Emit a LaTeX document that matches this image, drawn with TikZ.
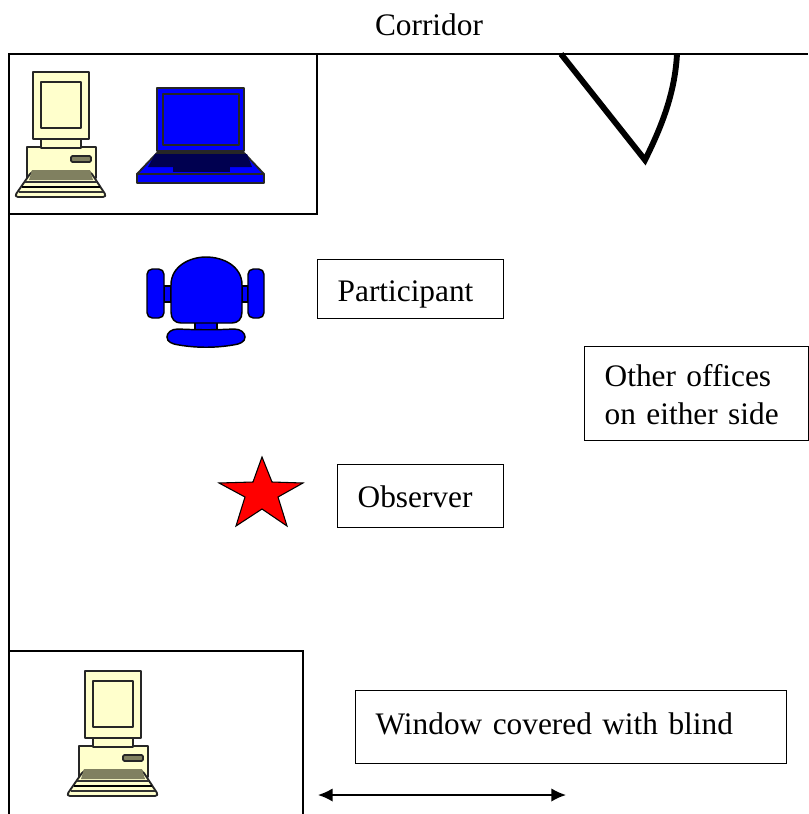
\documentclass[tikz,border=0pt]{standalone}
\usepackage{fontspec}
\setmainfont{Liberation Serif}
\usepackage{tikz}
\usetikzlibrary{arrows.meta, positioning}
\definecolor{pccream}{RGB}{255,255,204}
\definecolor{pckeys}{RGB}{128,128,96}
\definecolor{lapblue}{RGB}{0,0,255}
\definecolor{lapnavy}{RGB}{0,0,80}
\tikzstyle{wall} = [draw=black, line width=1.3pt]
\tikzstyle{labelbox} = [rectangle, draw=black, line width=1pt, align=left, inner xsep=15pt, inner ysep=0pt, font=\fontsize{23.5}{28}\selectfont, text depth=0pt, anchor=north west]
\tikzstyle{iconline} = [draw=black!85, line width=1.4pt, line join=round]
\tikzstyle{chairpart} = [draw=black, fill=lapblue, line width=1.1pt]
\tikzset{
  desktop/.pic={
    \path[iconline, fill=pccream] (-6,75) rectangle (63,106);
    \path[iconline, fill=pccream] (8,67) rectangle (48,76);
    \path[iconline, fill=pccream] (0,0) rectangle (56,67);
    \path[iconline, fill=pccream] (8,10) rectangle (48,56);
    \path[iconline, fill=pckeys, rounded corners=1pt] (38,84) rectangle (58,90);
    \path[iconline, fill=pccream, rounded corners=3pt] (-1,99) -- (-19,125) -- (74,125) -- (57,99) -- cycle;
    \path[fill=pckeys] (-1,98) -- (57,98) -- (60,108) -- (-4,108) -- cycle;
    \draw[line width=1.1pt, black!80] (-8,110) -- (64,110);
    \draw[line width=1.8pt, black] (-11,115) -- (67,115);
    \draw[line width=1.1pt, black!80] (-14,120) -- (70,120);
  }
}
\begin{document}
\begin{tikzpicture}[x=0.75pt, y=-0.75pt]
  \useasboundingbox (0,0) rectangle (808,814);

  % Walls
  \coordinate (wall_nw) at (9,54);
  \draw[wall] (9,814) -- (wall_nw) -- (808,54);
  \draw[line width=1pt] (wall_nw) rectangle (317,214);
  \draw[line width=1pt] (9,814) -- (9,651) -- (303,651) -- (303,814);

  % Door
  \draw[line width=4.4pt, miter limit=10] (561,54) -- (645,160) .. controls (664,122) and (675,90) .. (677,54);

  % Computers
  \pic at (33,72) {desktop};
  \pic at (85,671) {desktop};

  % Laptop
  \path[iconline, fill=lapblue] (157,153) -- (244,153) -- (264,174) -- (137,174) -- cycle;
  \path[fill=lapnavy] (155,154) -- (247,154) -- (252,167) -- (148,167) -- cycle;
  \path[fill=lapnavy] (173,167) rectangle (230,172);
  \path[iconline, fill=lapblue] (157,88) rectangle (244,151);
  \path[iconline, fill=lapblue] (163,94) rectangle (239,145);
  \path[iconline, fill=lapblue] (137,174) rectangle (264,183);

  % Chair
  \path[chairpart] (164,286) rectangle (171,302);
  \path[chairpart] (242,286) rectangle (248,302);
  \path[chairpart, rounded corners=4pt] (147,269) rectangle (164,318);
  \path[chairpart, rounded corners=4pt] (248,269) rectangle (264,318);
  \path[chairpart] (195,322) rectangle (217,331);
  \path[chairpart] (171,312) -- (171,285) .. controls (171,266) and (190,257) .. (206,257) .. controls (223,257) and (242,266) .. (242,285) -- (242,312) .. controls (242,319) and (238,323) .. (232,323) -- (181,323) .. controls (175,323) and (171,319) .. (171,312) -- cycle;
  \path[chairpart] (178,329) .. controls (198,330) and (215,330) .. (234,329) .. controls (241,329) and (245,333) .. (245,337) .. controls (245,342) and (240,344) .. (233,345) .. controls (215,348) and (197,348) .. (179,345) .. controls (172,344) and (167,342) .. (167,337) .. controls (167,333) and (171,329) .. (178,329) -- cycle;

  % Star
  \draw[draw=black, fill=red, line width=0.8pt, line join=miter] (262,457) -- (272,482) -- (303,483) -- (278,497) -- (287,526) -- (262,509) -- (236,526) -- (245,497) -- (219,483) -- (253,482) -- cycle;

  % Labels
  \node[anchor=base, font=\fontsize{23.5}{28}\selectfont] (corridor) at (429,35) {Corridor};
  \node[labelbox, minimum width=139.5pt, minimum height=44.25pt, text width=109.5pt, text height=18.75pt] (participant) at (317,259) {Participant};
  \node[labelbox, minimum width=168pt, minimum height=70.5pt, text width=138pt, text height=15pt, text depth=25.5pt] (offices) at (584,346) {Other offices\\ on either side};
  \node[labelbox, minimum width=124.5pt, minimum height=47.25pt, text width=94.5pt, text height=17.25pt] (observer) at (337,464) {Observer};
  \node[labelbox, minimum width=323.25pt, minimum height=54.75pt, text width=293.25pt, text height=11.25pt] (window) at (355,690) {Window covered with blind};

  % Window span
  \coordinate (window_l) at (318,795);
  \coordinate (window_r) at (566,795);
  \draw[{Latex[length=11pt,width=10pt]}-{Latex[length=11pt,width=10pt]}, line width=1.2pt] (window_l) -- (window_r);

\end{tikzpicture}
\end{document}
